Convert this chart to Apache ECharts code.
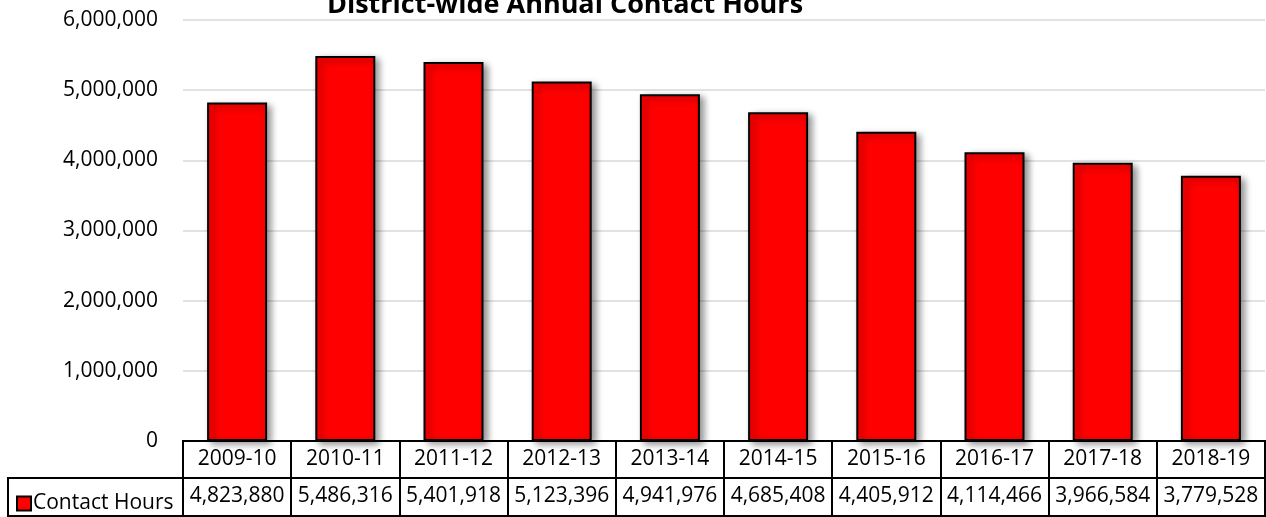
<!DOCTYPE html>
<html>
<head>
<meta charset="utf-8">
<script src="https://cdn.jsdelivr.net/npm/echarts@6/dist/echarts.min.js"></script>
<style>
  html, body { margin: 0; padding: 0; background: #fff; }
  #chart { width: 1266px; height: 517px; }
</style>
</head>
<body>
<div id="chart"></div>
<script>
const years = ['2009-10', '2010-11', '2011-12', '2012-13', '2013-14', '2014-15', '2015-16', '2016-17', '2017-18', '2018-19'];
const contactHours = [4823880, 5486316, 5401918, 5123396, 4941976, 4685408, 4405912, 4114466, 3966584, 3779528];
const seriesName = 'Contact Hours';
const chartTitle = 'District-wide Annual Contact Hours';

const font = '"Open Sans", sans-serif';
const fmt = v => v.toLocaleString('en-US');

let mychart = echarts.init(document.getElementById('chart'));

const option = {
    animation: false,
    textStyle: { fontFamily: font },
    graphic: [
        {
            type: 'text',
            style: {
                x: 565, y: 19,
                text: chartTitle,
                textAlign: 'center',
                textVerticalAlign: 'bottom',
                font: 'bold 27px "Open Sans", sans-serif',
                fill: '#000'
            }
        },
        {
            // legend cell of the data table
            type: 'rect',
            shape: { x: 8, y: 478, width: 175, height: 38 },
            style: { fill: 'none', stroke: '#000', lineWidth: 2 }
        }
    ],
    legend: {
        left: 11, top: 488,
        itemWidth: 14, itemHeight: 14, itemGap: 4,
        icon: 'rect',
        textStyle: { fontSize: 21, color: '#000', fontFamily: font, padding: [0, 0, 0, -3] },
        data: [seriesName]
    },
    grid: [
        { left: 183, right: 1, top: 20, bottom: 76 },
        { left: 183, right: 1, top: 441, height: 37, show: true, borderColor: '#000', borderWidth: 2 },
        { left: 183, right: 1, top: 478, height: 38, show: true, borderColor: '#000', borderWidth: 2 }
    ],
    xAxis: [
        {
            type: 'category', gridIndex: 0, data: years,
            axisLine: { lineStyle: { color: '#000', width: 2 } },
            axisTick: { show: false },
            axisLabel: { show: false }
        },
        {
            type: 'category', gridIndex: 1, data: years,
            axisLine: { show: false },
            axisTick: { show: false },
            axisLabel: { inside: true, interval: 0, hideOverlap: false, margin: 8, fontSize: 21, color: '#000', fontFamily: font },
            splitLine: { show: true, interval: 0, lineStyle: { color: '#000', width: 2 } }
        },
        {
            type: 'category', gridIndex: 2, data: years,
            axisLine: { show: false },
            axisTick: { show: false },
            axisLabel: {
                inside: true, interval: 0, hideOverlap: false, margin: 9, fontSize: 21, color: '#000', fontFamily: font,
                formatter: (v, i) => fmt(contactHours[i])
            },
            splitLine: { show: true, interval: 0, lineStyle: { color: '#000', width: 2 } }
        }
    ],
    yAxis: [
        {
            type: 'value', gridIndex: 0, min: 0, max: 6000000, interval: 1000000,
            axisLine: { show: false },
            axisTick: { show: false },
            axisLabel: { fontSize: 21, color: '#000', margin: 25, fontFamily: font, formatter: v => fmt(v) },
            splitLine: { lineStyle: { color: '#d9d9d9', width: 1.5 } }
        },
        { type: 'value', gridIndex: 1, show: false },
        { type: 'value', gridIndex: 2, show: false }
    ],
    series: [{
        name: seriesName,
        type: 'bar',
        xAxisIndex: 0, yAxisIndex: 0,
        barWidth: 60,
        data: contactHours,
        itemStyle: {
            color: '#ff0000',
            borderColor: '#000',
            borderWidth: 2,
            shadowColor: 'rgba(0,0,0,0.45)',
            shadowBlur: 7,
            shadowOffsetX: 4,
            shadowOffsetY: 3
        }
    }]
};
mychart.setOption(option);
</script>
</body>
</html>
